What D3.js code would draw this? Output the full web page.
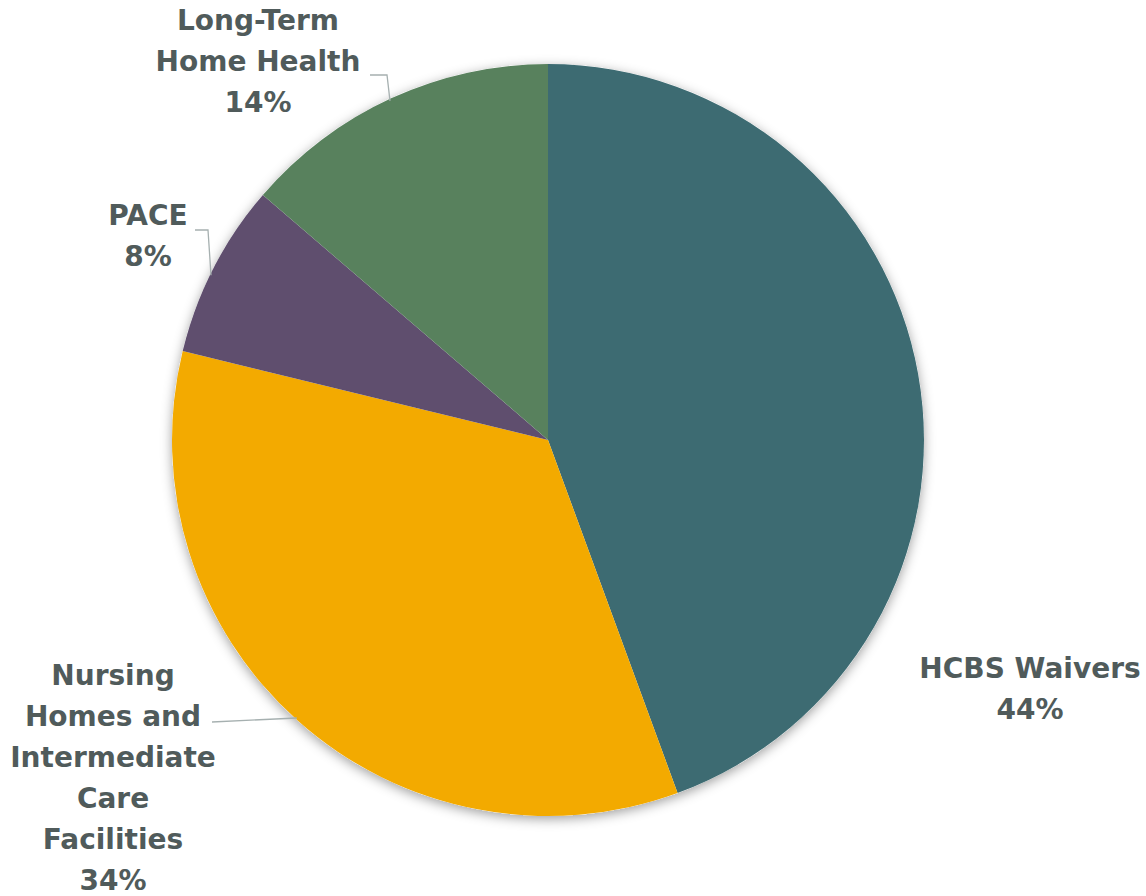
<!DOCTYPE html>
<meta charset="utf-8">
<style>
  body { margin: 0; background: #fff; }
  text { font-family: "DejaVu Sans", sans-serif; font-weight: bold; fill: #505b5b; }
</style>
<script src="https://d3js.org/d3.v7.min.js"></script>
<div id="chart"></div>
<script>
// slice data, clockwise from 12 o'clock
var categories = ["HCBS Waivers", "Nursing Homes and Intermediate Care Facilities", "PACE", "Long-Term Home Health"];
var values = [44.4, 34.4, 7.5, 13.7];
var pctLabels = ["44%", "34%", "8%", "14%"];
var colors = ["#3d6b72", "#f3aa00", "#5f4e6e", "#58815d"];

var width = 1146, height = 896;
var cx = 548, cy = 440, r = 376;

var svg = d3.select("#chart").append("svg")
  .attr("width", width)
  .attr("height", height);

// soft shadow round the pie
var f = svg.append("defs").append("filter").attr("id", "shadow")
  .attr("x", "-10%").attr("y", "-10%").attr("width", "120%").attr("height", "120%");
f.append("feDropShadow")
  .attr("dx", 0).attr("dy", 3)
  .attr("stdDeviation", 6)
  .attr("flood-color", "#000")
  .attr("flood-opacity", 0.38);

var pie = d3.pie().sort(null).value(function(d) { return d; });
var arc = d3.arc().innerRadius(0).outerRadius(r);

var g = svg.append("g").attr("transform", "translate(" + cx + "," + cy + ")");

g.append("circle").attr("r", r).attr("fill", "#fff").attr("filter", "url(#shadow)");

g.selectAll("path.slice")
  .data(pie(values))
  .enter().append("path")
    .attr("class", "slice")
    .attr("d", arc)
    .attr("fill", function(d, i) { return colors[i]; });

// labels, broken into lines like the original
var labelLines = [
  ["HCBS Waivers", pctLabels[0]],
  ["Nursing", "Homes and", "Intermediate", "Care", "Facilities", pctLabels[1]],
  ["PACE", pctLabels[2]],
  ["Long-Term", "Home Health", pctLabels[3]]
];
var labelPos = [
  {x: 1030, y: 668},
  {x: 113, y: 675},
  {x: 148, y: 215},
  {x: 258, y: 20}
];
var lineH = 41;

labelLines.forEach(function(lines, i) {
  var t = svg.append("text")
    .attr("text-anchor", "middle")
    .attr("font-size", 28);
  lines.forEach(function(s, j) {
    t.append("tspan")
      .attr("x", labelPos[i].x)
      .attr("y", labelPos[i].y + j * lineH)
      .attr("dy", "0.35em")
      .text(s);
  });
});

// leader lines from the label to the pie edge
var leaders = [
  {i: 1, pts: [[212, 722]]},
  {i: 2, pts: [[195, 230], [208, 230]]},
  {i: 3, pts: [[370, 75], [387, 75]]}
];
leaders.forEach(function(l) {
  var last = l.pts[l.pts.length - 1];
  var end;
  if (l.i === 1) {
    var dy = 718 - cy;
    end = [cx - Math.sqrt(r * r - dy * dy) + 2, 718];
  } else {
    var dx = last[0] + 3 - cx;
    end = [last[0] + 3, cy - Math.sqrt(r * r - dx * dx) + 2];
  }
  svg.append("path")
    .attr("d", d3.line()(l.pts.concat([end])))
    .attr("fill", "none")
    .attr("stroke", "#a6b0b0")
    .attr("stroke-width", 1.3);
});
</script>
